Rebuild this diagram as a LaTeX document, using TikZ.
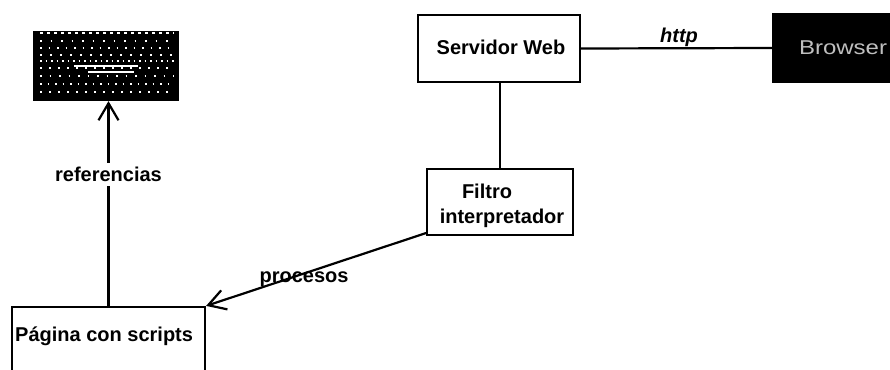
\documentclass[tikz,border=0pt]{standalone}
\usepackage{fontspec}
\setmainfont{Liberation Sans}
\usetikzlibrary{arrows.meta}
\begin{document}
\begin{tikzpicture}[x=1pt,y=-1pt,
  every node/.style={font=\fontsize{20}{24}\selectfont\bfseries, inner sep=0pt},
  box/.style={draw=black, line width=2.2pt, fill=white, rectangle},
  darkbox/.style={draw=black, line width=2.2pt, fill=black, rectangle},
  conn/.style={line width=2.2pt, line cap=round},
  arr/.style={conn, -{Straight Barb[length=17pt,width=20pt,line width=2.2pt]}},
  speck/.style={white, line width=1.6pt}]
\useasboundingbox (0,0) rectangle (890,369);
\fill[white] (0,0) rectangle (890,369);

% boxes
\node[box, minimum width=162pt, minimum height=67pt] (serv) at (499,48.5) {};
\node (servtext) at (501,47) {Servidor Web};
\node[darkbox, minimum width=140pt, minimum height=68pt, text=white!75!black,
  font=\fontsize{20}{24}\selectfont] (brow) at (843,48)
  {\scalebox{1.2}[1]{Browser}};
\node[box, minimum width=146pt, minimum height=66pt] (filtro) at (500,202) {};
\node (filtroA) at (487,191) {Filtro};
\node (filtroB) at (502,218) {interpretador};
\node[darkbox, minimum width=144pt, minimum height=68pt] (blk) at (106,66) {};
\node[box, minimum width=193pt, minimum height=90pt] (pag) at (108.5,352) {};
\node[anchor=west] (pagtext) at (15,336) {Página con scripts};

% speckled contents of the dark box
\foreach \yy/\on/\off in {33/3/4,41/1.5/9,48/1.5/7,55/2/8,61/1.5/4,68/2/7,76/1.5/8,84/1.5/6,92/2/7}
  \draw[speck, dash pattern=on \on pt off \off pt] (40,\yy) -- (174,\yy);
\draw[white, line width=1.3pt] (74,66) -- (138,66);
\draw[white, line width=1.3pt] (88,72) -- (134,72);

% connectors
\draw[conn] (serv.east) -- (brow.west);
\node[font=\fontsize{20}{24}\selectfont\bfseries\itshape] (http) at (679,37) {http};
\draw[conn] (filtro.north |- serv.south) -- (filtro.north);
\draw[arr] ([yshift=3pt]filtro.south west) -- (pag.north east);
\node (proc) at (304,279) {procesos};
\draw[arr] (pag.north) -- (pag.north |- blk.south)
  node[pos=0.64, fill=white, inner xsep=1pt, inner ysep=4pt] (refs) {referencias};
\end{tikzpicture}
\end{document}
